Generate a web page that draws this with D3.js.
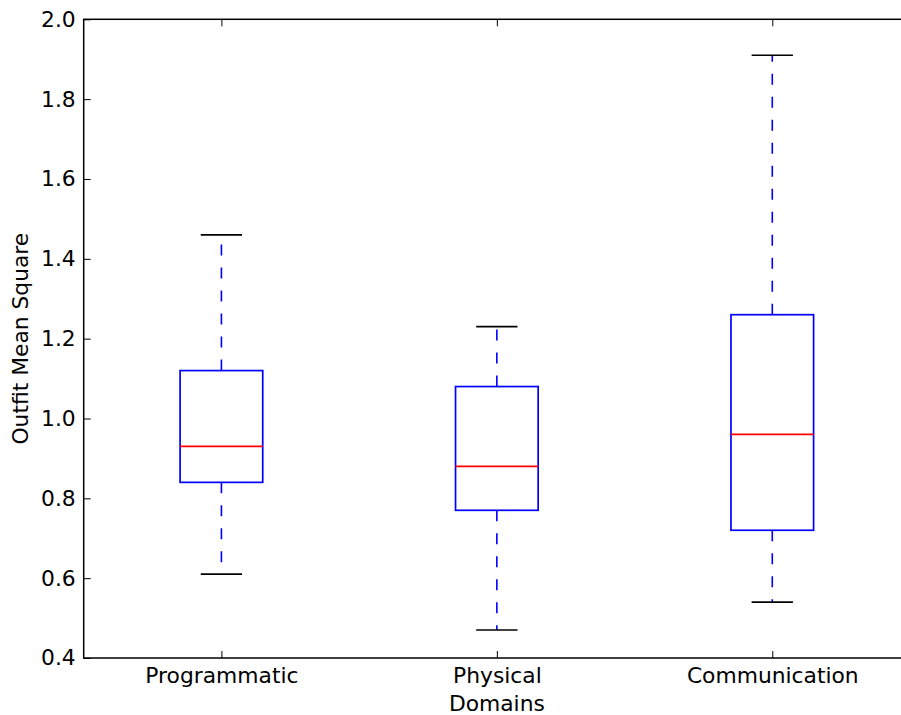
<!DOCTYPE html>
<html><head><meta charset="utf-8">
<script src="https://cdn.jsdelivr.net/npm/d3@7"></script>
<style>body{margin:0;background:#fff}svg{display:block}text{font-family:"DejaVu Sans",sans-serif;fill:#000}</style>
</head><body>
<script>
const categories = ["Programmatic", "Physical", "Communication"];
const whiskerLow = [0.61, 0.47, 0.54];
const q1 = [0.84, 0.77, 0.72];
const median = [0.93, 0.88, 0.96];
const q3 = [1.12, 1.08, 1.26];
const whiskerHigh = [1.46, 1.23, 1.91];
const yTicks = [0.4, 0.6, 0.8, 1.0, 1.2, 1.4, 1.6, 1.8, 2.0];
const xLabel = "Domains";
const yLabel = "Outfit Mean Square";

const W = 901, H = 715;
const svg = d3.select("body").append("svg").attr("width", W).attr("height", H);
const y = d3.scaleLinear().domain([0.4, 2.0]).range([658, 19.3]);
const x = d3.scaleLinear().domain([0.5, 3.5]).range([83.7, 910]);
const L = x(0.5), R = x(3.5), T = y(2.0), B = y(0.4);
const unit = x(1) - x(0);
const fs = 21.8;

const g = svg.append("g");
const data = categories.map((c, i) => ({c, i: i + 1, lo: whiskerLow[i], q1: q1[i], med: median[i], q3: q3[i], hi: whiskerHigh[i]}));

data.forEach(d => {
  g.append("line").attr("x1", x(d.i)).attr("x2", x(d.i)).attr("y1", y(d.q3)).attr("y2", y(d.hi))
    .attr("stroke", "#0000ff").attr("stroke-width", 1.6).attr("stroke-dasharray", "11,12");
  g.append("line").attr("x1", x(d.i)).attr("x2", x(d.i)).attr("y1", y(d.q1)).attr("y2", y(d.lo))
    .attr("stroke", "#0000ff").attr("stroke-width", 1.6).attr("stroke-dasharray", "11,12");
  [d.lo, d.hi].forEach(v => {
    g.append("line").attr("x1", x(d.i - 0.075)).attr("x2", x(d.i + 0.075)).attr("y1", y(v)).attr("y2", y(v))
      .attr("stroke", "#000").attr("stroke-width", 1.6);
  });
  g.append("rect").attr("x", x(d.i - 0.15)).attr("width", unit * 0.3)
    .attr("y", y(d.q3)).attr("height", y(d.q1) - y(d.q3))
    .attr("fill", "none").attr("stroke", "#0000ff").attr("stroke-width", 1.7);
  g.append("line").attr("x1", x(d.i - 0.15)).attr("x2", x(d.i + 0.15)).attr("y1", y(d.med)).attr("y2", y(d.med))
    .attr("stroke", "#ff0000").attr("stroke-width", 1.7);
});

const yAx = svg.append("g").attr("transform", `translate(${L},0)`)
  .call(d3.axisLeft(y).tickValues(yTicks).tickFormat(d3.format(".1f")).tickSizeInner(-7).tickSizeOuter(0).tickPadding(8));
yAx.select(".domain").remove();
yAx.selectAll("line").attr("stroke", "#000").attr("stroke-width", 1);
yAx.selectAll("text").attr("font-size", fs).attr("font-family", "DejaVu Sans");

const xAx = svg.append("g").attr("transform", `translate(0,${B})`)
  .call(d3.axisBottom(x).tickValues([1, 2, 3]).tickFormat(d => categories[d - 1]).tickSizeInner(-7).tickSizeOuter(0).tickPadding(10));
xAx.select(".domain").remove();
xAx.selectAll("line").attr("stroke", "#000").attr("stroke-width", 1);
xAx.selectAll("text").attr("font-size", fs).attr("font-family", "DejaVu Sans");

const xTop = svg.append("g").attr("transform", `translate(0,${T})`)
  .call(d3.axisTop(x).tickValues([1, 2, 3]).tickFormat("").tickSizeInner(-7).tickSizeOuter(0));
xTop.select(".domain").remove();
xTop.selectAll("line").attr("stroke", "#000").attr("stroke-width", 1);

svg.append("rect").attr("x", L).attr("y", T).attr("width", R - L).attr("height", B - T)
  .attr("fill", "none").attr("stroke", "#000").attr("stroke-width", 1.5);

svg.append("text").attr("x", (L + R) / 2).attr("y", 711).attr("text-anchor", "middle")
  .attr("font-size", fs).text(xLabel);
svg.append("text").attr("transform", `translate(28,${(T + B) / 2}) rotate(-90)`).attr("text-anchor", "middle")
  .attr("font-size", fs).text(yLabel);
</script>
</body></html>
